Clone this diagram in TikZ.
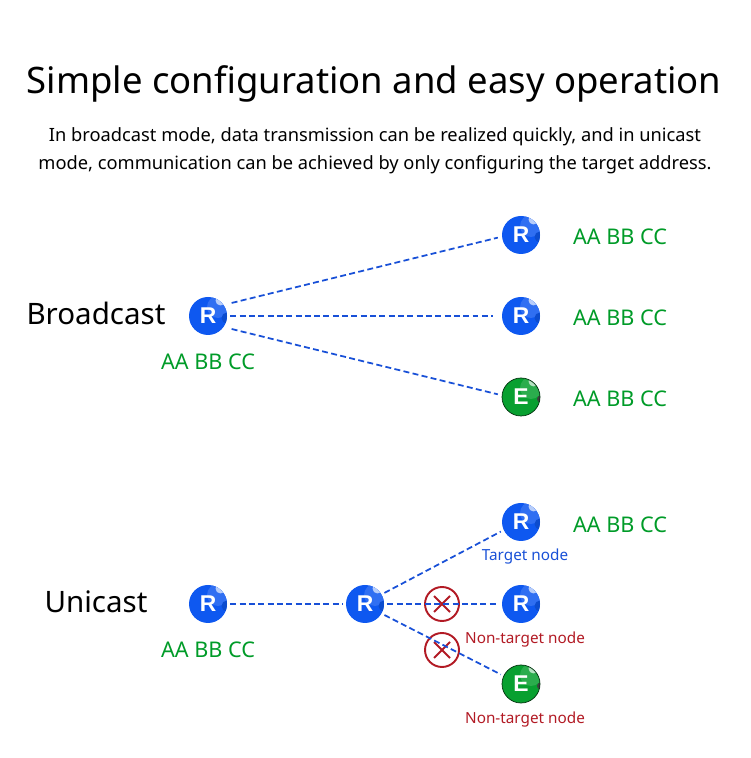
\documentclass[tikz,border=0pt]{standalone}
\usepackage{fontspec}
\usepackage{xcolor}
\setmainfont{Noto Sans}
\newfontfamily\stnfont{Liberation Sans}
\definecolor{cblue}{RGB}{14,88,240}
\definecolor{cgreen}{RGB}{8,160,48}
\definecolor{cred}{RGB}{178,26,36}
\definecolor{clink}{RGB}{24,80,215}
\definecolor{ctag}{RGB}{0,155,40}
\tikzset{
  stn/.style={circle,minimum size=0.76cm,inner sep=0pt,text=white,font=\fontsize{13}{13}\stnfont\bfseries},
  rstn/.style={stn,fill=cblue,path picture={
    \fill[white!14!cblue] ([xshift=0.20cm,yshift=0.18cm]path picture bounding box.center) circle (0.22);
    \fill[white!70!cblue] ([xshift=0.25cm,yshift=0.31cm]path picture bounding box.center) circle (0.10);
    \fill[black!14!cblue] ([xshift=0.38cm,yshift=-0.04cm]path picture bounding box.center) circle (0.11);}},
  estn/.style={stn,fill=cgreen,draw=black!70!cgreen,thin,path picture={
    \fill[white!14!cgreen] ([xshift=0.20cm,yshift=0.18cm]path picture bounding box.center) circle (0.22);
    \fill[white!70!cgreen] ([xshift=0.25cm,yshift=0.31cm]path picture bounding box.center) circle (0.10);
    \fill[black!75] ([xshift=0.39cm,yshift=-0.04cm]path picture bounding box.center) circle (0.07);}},
  lnk/.style={clink,dash pattern=on 3.4pt off 1.9pt,line width=1pt},
  addr/.style={ctag,font=\fontsize{12.3}{12.3}\selectfont},
  mode/.style={black,font=\fontsize{16.8}{16.8}\selectfont},
  nolab/.style={cred,font=\fontsize{8.7}{8.7}\selectfont},
  block/.style={circle,draw=cred,line width=1.1pt,minimum size=0.68cm,inner sep=0pt,path picture={
    \draw[cred,line width=1.1pt] ([xshift=-0.16cm,yshift=-0.16cm]path picture bounding box.center) -- ([xshift=0.16cm,yshift=0.16cm]path picture bounding box.center);
    \draw[cred,line width=1.1pt] ([xshift=-0.16cm,yshift=0.16cm]path picture bounding box.center) -- ([xshift=0.16cm,yshift=-0.16cm]path picture bounding box.center);}}
}
\begin{document}
\begin{tikzpicture}[x=1cm,y=1cm]
\useasboundingbox (0,0) rectangle (15,15.16);
% heading
\node[font=\fontsize{20.75}{20.75}\selectfont] (title) at (7.48,13.49) {Simple configuration and easy operation};
\node[font=\fontsize{10.4}{10.4}\selectfont] (subone) at (7.50,12.42) {In broadcast mode, data transmission can be realized quickly, and in unicast};
\node[font=\fontsize{10.4}{10.4}\selectfont] (subtwo) at (7.50,11.86) {mode, communication can be achieved by only configuring the target address.};
% broadcast
\node[mode] (blab) at (1.92,8.90) {Broadcast};
\node[rstn] (bsrc) at (4.16,8.84) {R};
\node[addr] (baddr) at (4.16,7.93) {AA BB CC};
\node[rstn] (btop) at (10.42,10.46) {R};
\node[rstn] (bmid) at (10.42,8.84) {R};
\node[estn] (bbot) at (10.42,7.22) {E};
\node[addr] (taddr) at (12.40,10.43) {AA BB CC};
\node[addr] (maddr) at (12.40,8.80) {AA BB CC};
\node[addr] (eaddr) at (12.40,7.19) {AA BB CC};
\draw[lnk,shorten <=0.16cm,shorten >=0.08cm] (bsrc.35) -- (btop.185);
\draw[lnk,shorten <=0.06cm,shorten >=0.18cm] (bsrc.east) -- (bmid.west);
\draw[lnk,shorten <=0.16cm,shorten >=0.08cm] (bsrc.-35) -- (bbot.175);
% unicast
\node[mode] (ulab) at (1.92,3.12) {Unicast};
\node[rstn] (usrc) at (4.16,3.08) {R};
\node[addr] (uaddr) at (4.16,2.17) {AA BB CC};
\node[rstn] (urel) at (7.30,3.08) {R};
\node[rstn] (utop) at (10.42,4.72) {R};
\node[rstn] (umid) at (10.42,3.08) {R};
\node[estn] (ubot) at (10.42,1.48) {E};
\node[addr] (utaddr) at (12.40,4.67) {AA BB CC};
\node[font=\fontsize{8.7}{8.7}\selectfont,text=clink] (utlab) at (10.50,4.02) {Target node};
\node[nolab] (umlab) at (10.50,2.36) {Non-target node};
\node[nolab] (ublab) at (10.50,0.76) {Non-target node};
\node[block] (xmid) at (8.84,3.08) {};
\node[block] (xbot) at (8.84,2.16) {};
\draw[lnk,shorten <=0.06cm,shorten >=0.06cm] (usrc.east) -- (urel.west);
\draw[lnk,shorten <=0.06cm,shorten >=0.06cm] (urel.30) -- (utop.205);
\draw[lnk,shorten <=0.06cm,shorten >=0.10cm] (urel.east) -- (umid.west);
\draw[lnk,shorten <=0.06cm,shorten >=0.06cm] (urel.-30) -- (ubot.155);
\end{tikzpicture}
\end{document}
